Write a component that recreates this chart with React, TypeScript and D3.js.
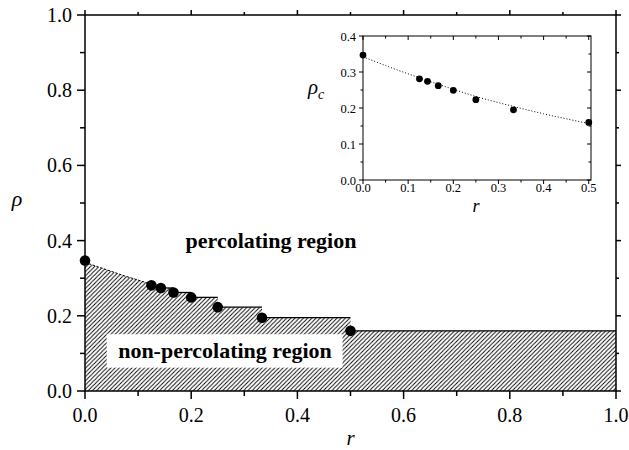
import * as d3 from "d3";
import React, { useEffect, useRef } from "react";

// critical density at r = 1/n
const rValues = [0, 1 / 8, 1 / 7, 1 / 6, 1 / 5, 1 / 4, 1 / 3, 1 / 2];
const rhoC = [0.347, 0.281, 0.274, 0.262, 0.249, 0.223, 0.195, 0.16];

// dotted fit curve
const fitR = [0, 0.025, 0.05, 0.075, 0.1, 0.125, 0.15, 0.2, 0.25, 0.3, 0.35, 0.4, 0.45, 0.5];
const fitRho = [0.342, 0.33, 0.318, 0.306, 0.295, 0.284, 0.273, 0.252, 0.232, 0.215, 0.199, 0.184, 0.17, 0.157];

const mainTicks = [0, 0.2, 0.4, 0.6, 0.8, 1.0];
const mainMinor = [0.1, 0.3, 0.5, 0.7, 0.9];
const insetXTicks = [0, 0.1, 0.2, 0.3, 0.4, 0.5];
const insetXMinor = [0.05, 0.15, 0.25, 0.35, 0.45];
const insetYTicks = [0, 0.1, 0.2, 0.3, 0.4];
const insetYMinor = [0.05, 0.15, 0.25, 0.35];

const SERIF = "'Liberation Serif', Tinos, 'Times New Roman', serif";

export default function App() {
  const ref = useRef<SVGSVGElement>(null);

  useEffect(() => {
    const svg = d3.select(ref.current);
    svg.selectAll("*").remove();

    const x = d3.scaleLinear().domain([0, 1]).range([85, 616]);
    const y = d3.scaleLinear().domain([0, 1]).range([391, 15]);
    const ix = d3.scaleLinear().domain([0, 0.505]).range([363, 591]);
    const iy = d3.scaleLinear().domain([0, 0.4]).range([180, 36]);

    const fit = fitR.map((r, i) => [r, fitRho[i]] as [number, number]);
    const fitLeft = fit.filter((d) => d[0] <= rValues[1]);

    // steps: rho_c(1/n) holds until the next r
    const steps: [number, number][][] = [];
    for (let i = 1; i < rValues.length; i++) {
      const r1 = i + 1 < rValues.length ? rValues[i + 1] : 1;
      steps.push([
        [rValues[i], rhoC[i]],
        [r1, rhoC[i]],
      ]);
    }
    const poly: [number, number][] = [[0, 0], ...fitLeft];
    steps.forEach((s) => poly.push(s[0], s[1]));
    poly.push([1, 0]);

    const line = d3.line<[number, number]>().x((d) => x(d[0])).y((d) => y(d[1]));
    const curve = d3.line<[number, number]>().x((d) => x(d[0])).y((d) => y(d[1])).curve(d3.curveMonotoneX);
    const insetCurve = d3.line<[number, number]>().x((d) => ix(d[0])).y((d) => iy(d[1])).curve(d3.curveMonotoneX);

    const [x0, x1] = x.range();
    const [y0, y1] = y.range();
    const [ix0, ix1] = ix.range();
    const [iy0, iy1] = iy.range();

    const label = (tx: number, ty: number, s: string, size: number, anchor = "middle") =>
      svg
        .append("text")
        .attr("x", tx)
        .attr("y", ty)
        .attr("text-anchor", anchor)
        .attr("font-family", SERIF)
        .style("font-family", SERIF)
        .attr("font-size", size)
        .text(s);

    const tick = (ax: number, ay: number, bx: number, by: number, w = 1.5) =>
      svg.append("line").attr("x1", ax).attr("y1", ay).attr("x2", bx).attr("y2", by).attr("stroke", "#000").attr("stroke-width", w);

    const pat = svg
      .append("defs")
      .append("pattern")
      .attr("id", "hatch")
      .attr("patternUnits", "userSpaceOnUse")
      .attr("width", 4.2)
      .attr("height", 4.2);
    pat.append("path").attr("d", "M-1,1 l2,-2 M0,4.2 l4.2,-4.2 M3.2,5.2 l2,-2").attr("stroke", "#000").attr("stroke-width", 0.9);

    svg.append("rect").attr("width", 629).attr("height", 450).attr("fill", "#fff");

    // hatched non-percolating region
    svg.append("path").attr("d", line(poly) + "Z").attr("fill", "url(#hatch)");
    svg
      .append("path")
      .attr("d", curve(fitLeft))
      .attr("fill", "none")
      .attr("stroke", "#000")
      .attr("stroke-dasharray", "2.5,1.5");
    steps.forEach((s) => svg.append("path").attr("d", line(s)).attr("fill", "none").attr("stroke", "#000").attr("stroke-width", 1.3));

    svg
      .append("rect")
      .attr("x", x(0.041))
      .attr("y", y(0.151))
      .attr("width", x(0.485) - x(0.041))
      .attr("height", y(0.062) - y(0.151))
      .attr("fill", "#fff");
    label(225, 358, "non-percolating region", 22).attr("font-weight", "bold");
    label(271, 248, "percolating region", 22).attr("font-weight", "bold");

    svg
      .selectAll(".dot")
      .data(rValues)
      .join("circle")
      .attr("class", "dot")
      .attr("cx", (d) => x(d))
      .attr("cy", (_, i) => y(rhoC[i]))
      .attr("r", 5.3);

    // main frame and ticks
    svg.append("rect").attr("x", x0).attr("y", y1).attr("width", x1 - x0).attr("height", y0 - y1).attr("fill", "none").attr("stroke", "#000").attr("stroke-width", 1.5);
    mainTicks.forEach((t) => {
      tick(x(t), y0, x(t), y0 + 8);
      tick(x(t), y1, x(t), y1 - 5);
      tick(x0, y(t), x0 - 8, y(t));
      tick(x1, y(t), x1 + 5, y(t));
      label(x(t), 421.5, t.toFixed(1), 20);
      label(72, y(t) + 7, t.toFixed(1), 20, "end");
    });
    mainMinor.forEach((t) => {
      tick(x(t), y0, x(t), y0 + 5);
      tick(x(t), y1, x(t), y1 - 3);
      tick(x0, y(t), x0 - 5, y(t));
      tick(x1, y(t), x1 + 3, y(t));
    });
    label(350.5, 445, "r", 21).attr("font-style", "italic");
    label(17, 206, "ρ", 22).attr("font-style", "italic");

    // inset
    svg
      .append("path")
      .attr("d", insetCurve(fit))
      .attr("fill", "none")
      .attr("stroke", "#000")
      .attr("stroke-dasharray", "1,2");
    svg
      .selectAll(".idot")
      .data(rValues)
      .join("circle")
      .attr("class", "idot")
      .attr("cx", (d) => ix(d))
      .attr("cy", (_, i) => iy(rhoC[i]))
      .attr("r", 3.4);
    svg.append("rect").attr("x", ix0).attr("y", iy1).attr("width", ix1 - ix0).attr("height", iy0 - iy1).attr("fill", "none").attr("stroke", "#000");
    insetXTicks.forEach((t) => {
      tick(ix(t), iy0, ix(t), iy0 + 4, 1);
      tick(ix(t), iy1, ix(t), iy1 + 4, 1);
      label(ix(t), 192, t.toFixed(1), 12.5);
    });
    insetXMinor.forEach((t) => {
      tick(ix(t), iy0, ix(t), iy0 + 2.5, 1);
      tick(ix(t), iy1, ix(t), iy1 + 2.5, 1);
    });
    insetYTicks.forEach((t) => {
      tick(ix0, iy(t), ix0 - 4, iy(t), 1);
      tick(ix1, iy(t), ix1 - 4, iy(t), 1);
      label(356, iy(t) + 4.5, t.toFixed(1), 12.5, "end");
    });
    insetYMinor.forEach((t) => {
      tick(ix0, iy(t), ix0 - 2.5, iy(t), 1);
      tick(ix1, iy(t), ix1 - 2.5, iy(t), 1);
    });
    label(476, 212, "r", 18).attr("font-style", "italic");
    const rc = label(308, 94, "ρ", 21, "start").attr("font-style", "italic");
    rc.append("tspan").attr("font-size", 14).attr("dy", 5).text("c");
  }, []);

  return <svg ref={ref} width={629} height={450} style={{ position: "absolute", left: 0, top: 0 }} />;
}
